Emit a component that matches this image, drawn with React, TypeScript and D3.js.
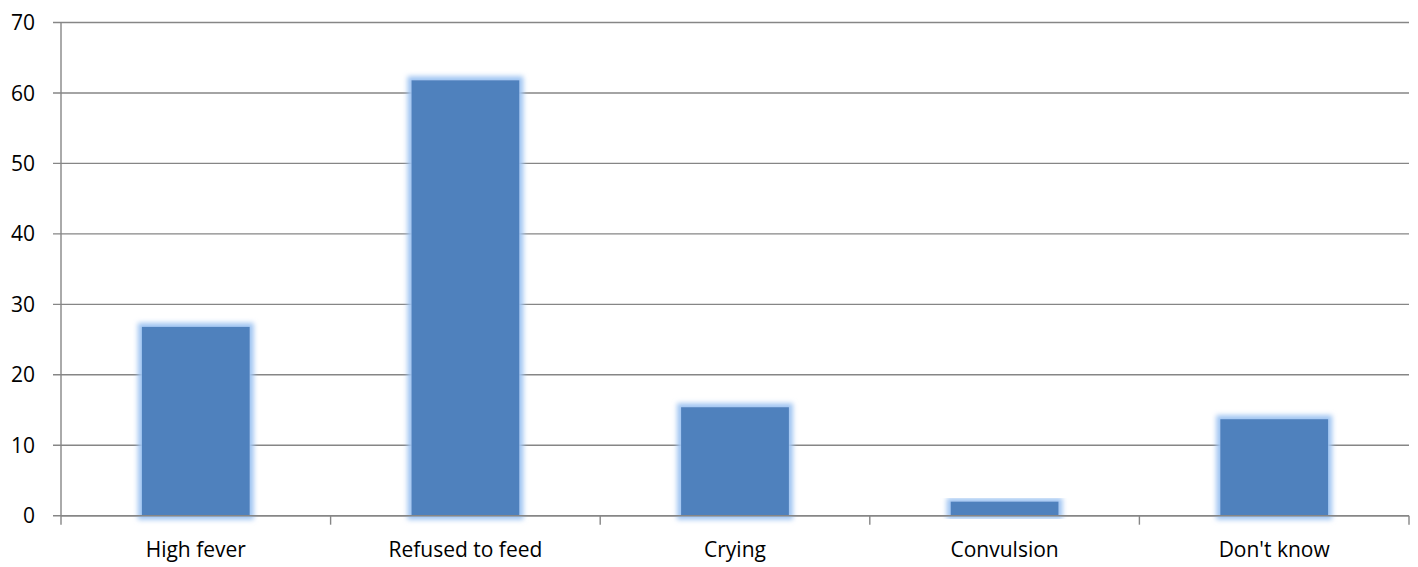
import React from "react";
import * as d3 from "d3";

const categories = ["High fever", "Refused to feed", "Crying", "Convulsion", "Don't know"];
const values = [26.8, 61.8, 15.4, 2.0, 13.7];
const yTicks = [0, 10, 20, 30, 40, 50, 60, 70];

export default function App() {
  const W = 1418, H = 567;
  const left = 61, right = 1409, top = 22.5, bottom = 515.7;
  const x = d3.scaleBand<string>().domain(categories).range([left, right]).paddingInner(0.6).paddingOuter(0.3);
  const y = d3.scaleLinear().domain([0, 70]).range([bottom, top]);
  const step = x.step();
  const boundaries = d3.range(categories.length + 1).map((i) => left + i * step);
  const font = "'Open Sans', 'Noto Sans', sans-serif";
  const grid = "#868686";
  return (
    <svg width={W} height={H} style={{ position: "absolute", left: 0, top: 0, background: "#fff" }}>
      <defs>
        <filter id="glow" x="-20%" y="-20%" width="140%" height="140%">
          <feMorphology in="SourceAlpha" operator="dilate" radius="4" result="d" />
          <feFlood floodColor="#9fc4f2" result="c" />
          <feComposite in="c" in2="d" operator="in" result="g" />
          <feGaussianBlur in="g" stdDeviation="2.5" result="gb" />
          <feMerge>
            <feMergeNode in="gb" />
            <feMergeNode in="SourceGraphic" />
          </feMerge>
        </filter>
      </defs>
      {yTicks.map((t) => (
        <g key={t}>
          <line x1={left - 8} x2={right} y1={y(t)} y2={y(t)} stroke={grid} strokeWidth={1.4} />
          <text x={35} y={y(t)} dy="0.36em" textAnchor="end" fontFamily={font} fontSize={21} fill="#000">
            {t}
          </text>
        </g>
      ))}
      <line x1={left} x2={left} y1={top} y2={bottom} stroke={grid} strokeWidth={1.4} />
      {boundaries.map((b, i) => (
        <line key={i} x1={b} x2={b} y1={bottom} y2={bottom + 9} stroke={grid} strokeWidth={1.4} />
      ))}
      {categories.map((c, i) => (
        <rect key={c} x={x(c)} y={y(values[i])} width={x.bandwidth()} height={bottom - y(values[i])} fill="#4f81bd" filter="url(#glow)" />
      ))}
      <line x1={left} x2={right} y1={bottom} y2={bottom} stroke={grid} strokeWidth={1.4} />
      {categories.map((c) => (
        <text key={c} x={(x(c) as number) + x.bandwidth() / 2} y={557} textAnchor="middle" fontFamily={font} fontSize={21} fill="#000">
          {c}
        </text>
      ))}
    </svg>
  );
}
